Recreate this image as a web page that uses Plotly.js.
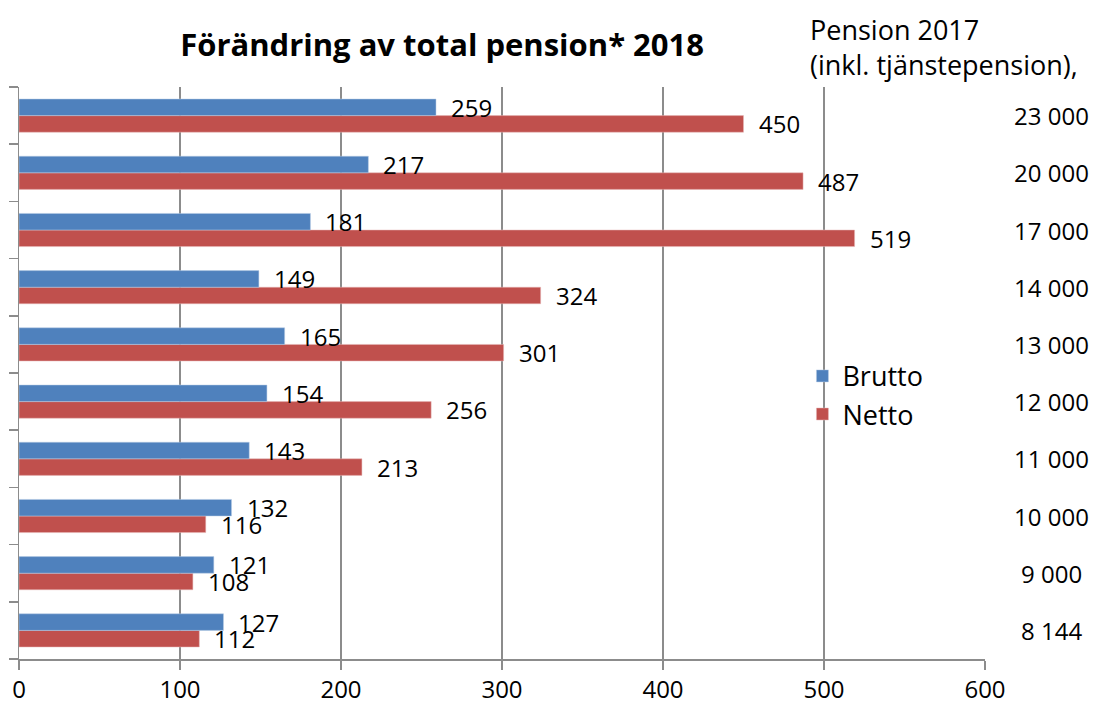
<!DOCTYPE html>
<html><head><meta charset="utf-8">
<script src="https://cdn.plot.ly/plotly-3.0.1.min.js"></script>
<style>html,body{margin:0;padding:0;background:#fff}#chart{width:1097px;height:709px}</style>
</head><body><div id="chart"></div>
<script>
const categories = ['8 144','9 000','10 000','11 000','12 000','13 000','14 000','17 000','20 000','23 000'];
const brutto = [127,121,132,143,154,165,149,181,217,259];
const netto  = [112,108,116,213,256,301,324,519,487,450];
const xTicks = [0,100,200,300,400,500,600];
const titleText = 'Förändring av total pension* 2018';
const sideTitle = 'Pension 2017<br>(inkl. tjänstepension),';

const FONT = '"Open Sans", sans-serif';
const grid = '#8c8c8c';

const traces = [
  {type:'bar', orientation:'h', name:'Netto', y:categories, x:netto,
   marker:{color:'#C0504D', line:{color:'#e6b9b8', width:0.5}}, hoverinfo:'x+name'},
  {type:'bar', orientation:'h', name:'Brutto', y:categories, x:brutto,
   marker:{color:'#4F81BD', line:{color:'#b9cde5', width:0.5}}, hoverinfo:'x+name'}
];

const annotations = [];
categories.forEach((c, i) => {
  annotations.push({xref:'paper', yref:'y', x:1.069, y:c, text:c, showarrow:false,
    xanchor:'center', yanchor:'middle', font:{family:FONT, size:24, color:'#000'}});
  annotations.push({xref:'x', yref:'y', x:brutto[i], y:c, text:String(brutto[i]), showarrow:false,
    xanchor:'left', yanchor:'middle', xshift:13, yshift:8.3, font:{family:FONT, size:24, color:'#000'}});
  annotations.push({xref:'x', yref:'y', x:netto[i], y:c, text:String(netto[i]), showarrow:false,
    xanchor:'left', yanchor:'middle', xshift:13, yshift:-8.3, font:{family:FONT, size:24, color:'#000'}});
});
annotations.push({xref:'paper', yref:'paper', x:0.8168, y:1.07, text:sideTitle, showarrow:false,
  xanchor:'left', yanchor:'middle', align:'left', font:{family:FONT, size:27, color:'#000'}});

const layout = {
  width:1097, height:709,
  margin:{l:19, r:112, t:87, b:50},
  paper_bgcolor:'#fff', plot_bgcolor:'#fff',
  title:{text:'<b>'+titleText+'</b>', x:0.403, xanchor:'center', y:0.937, yanchor:'middle',
         font:{family:FONT, size:31, color:'#000'}},
  barmode:'group', bargap:0.42, bargroupgap:0,
  showlegend:true,
  legend:{x:0.811, y:0.537, xanchor:'left', yanchor:'top', traceorder:'reversed',
          font:{family:FONT, size:27, color:'#000'}, bgcolor:'rgba(0,0,0,0)', itemwidth:30},
  xaxis:{range:[0,600], tickvals:xTicks, ticktext:xTicks.map(String), showgrid:true, gridcolor:grid, gridwidth:1.5,
         zeroline:false, showline:true, linecolor:grid, linewidth:1.5, ticks:'outside', ticklen:9, tickcolor:grid, tickwidth:1.5,
         tickfont:{family:FONT, size:24, color:'#000'}, fixedrange:true},
  yaxis:{type:'category', categoryorder:'array', categoryarray:categories, showticklabels:false,
         showline:true, linecolor:grid, linewidth:1.5, ticks:'outside', tickson:'boundaries', ticklen:9,
         tickcolor:grid, tickwidth:1.5, showgrid:false, zeroline:false, fixedrange:true},
  annotations:annotations
};
Plotly.newPlot('chart', traces, layout, {displayModeBar:false, staticPlot:true});
</script></body></html>
